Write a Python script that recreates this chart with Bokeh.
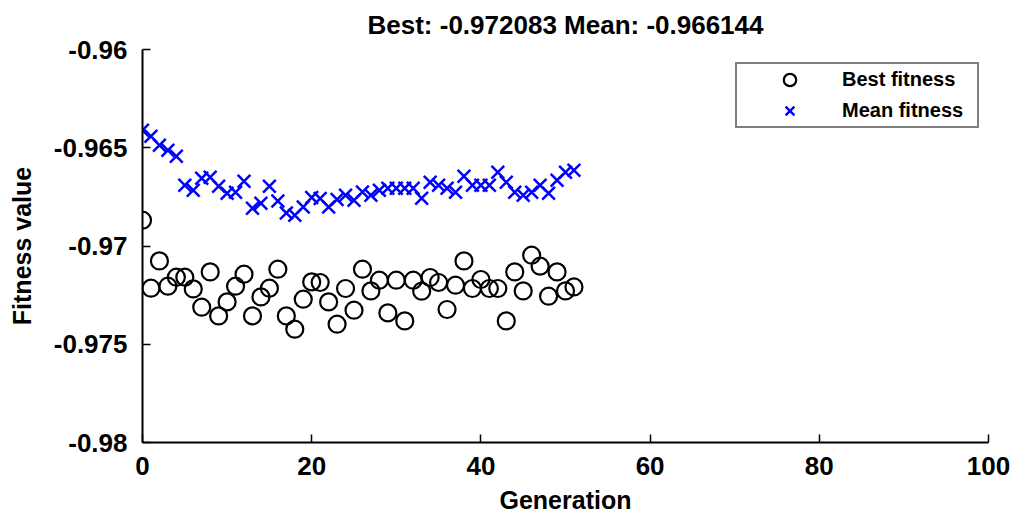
from bokeh.plotting import figure
from bokeh.models import Range1d, FixedTicker, CustomJSTickFormatter, Legend, LegendItem
from bokeh.embed import file_html
from bokeh.resources import INLINE

generation = list(range(52))
best_fitness = [
    -0.968687, -0.972148, -0.970758, -0.972046, -0.971588, -0.971588, -0.972183, -0.973115,
    -0.971318, -0.973557, -0.972845, -0.972046, -0.971435, -0.973557, -0.972590, -0.972148,
    -0.971181, -0.973557, -0.974234, -0.972707, -0.971827, -0.971858, -0.972845, -0.973980,
    -0.972163, -0.973267, -0.971181, -0.972285, -0.971740, -0.973405, -0.971740, -0.973812,
    -0.971740, -0.972300, -0.971603, -0.971858, -0.973232, -0.971995, -0.970758, -0.972163,
    -0.971705, -0.972163, -0.972163, -0.973812, -0.971318, -0.972285, -0.970468, -0.971028,
    -0.972555, -0.971318, -0.972285, -0.972083,
]
mean_fitness = [
    -0.964107, -0.964412, -0.964870, -0.965125, -0.965430, -0.966906, -0.967160, -0.966550,
    -0.966499, -0.966957, -0.967313, -0.967262, -0.966702, -0.968076, -0.967822, -0.966957,
    -0.967705, -0.968316, -0.968433, -0.968010, -0.967532, -0.967583, -0.968010, -0.967634,
    -0.967415, -0.967669, -0.967247, -0.967415, -0.967160, -0.967059, -0.967059, -0.967059,
    -0.967059, -0.967567, -0.966753, -0.966906, -0.967059, -0.967262, -0.966448, -0.966906,
    -0.966906, -0.966906, -0.966244, -0.966753, -0.967262, -0.967415, -0.967262, -0.966906,
    -0.967313, -0.966651, -0.966244, -0.966144,
]
x_ticks = [0, 20, 40, 60, 80, 100]
y_ticks = [-0.98, -0.975, -0.97, -0.965, -0.96]
title_text = "Best: -0.972083 Mean: -0.966144"
x_label = "Generation"
y_label = "Fitness value"
series_names = ["Best fitness", "Mean fitness"]

FONT = "Liberation Sans"

p = figure(width=1019, height=516, output_backend="svg", toolbar_location=None,
           x_range=Range1d(0, 100), y_range=Range1d(-0.98, -0.96),
           min_border_left=142, min_border_right=31, min_border_top=49, min_border_bottom=74)

p.title.text = title_text
p.title.align = "center"
p.title.vertical_align = "top"
p.title.text_font = FONT
p.title.text_font_size = "26px"
p.title.text_font_style = "bold"
p.title.text_color = "black"
p.title.standoff = 15

p.outline_line_color = None
p.xgrid.grid_line_color = None
p.ygrid.grid_line_color = None
p.background_fill_color = "white"
p.border_fill_color = "white"

for ax in (p.xaxis[0], p.yaxis[0]):
    ax.axis_line_width = 2
    ax.axis_line_color = "black"
    ax.major_tick_in = 8
    ax.major_tick_out = 0
    ax.major_tick_line_width = 1.5
    ax.major_tick_line_color = "black"
    ax.minor_tick_line_color = None
    ax.major_label_text_font = FONT
    ax.major_label_text_font_size = "26px"
    ax.major_label_text_font_style = "bold"
    ax.major_label_text_color = "black"
    ax.axis_label_text_font = FONT
    ax.axis_label_text_font_size = "25px"
    ax.axis_label_text_font_style = "bold"
    ax.axis_label_text_color = "black"

p.xaxis.ticker = FixedTicker(ticks=x_ticks)
p.yaxis.ticker = FixedTicker(ticks=y_ticks)
p.yaxis.formatter = CustomJSTickFormatter(code="return String(Math.round(tick*1000)/1000);")
p.xaxis.major_label_standoff = 14
p.yaxis.major_label_standoff = 15
p.xaxis.axis_label = x_label
p.yaxis.axis_label = y_label
p.xaxis.axis_label_standoff = 8
p.yaxis.axis_label_standoff = 15

r_best = p.scatter(generation, best_fitness, marker="circle", size=17, fill_color=None,
                   line_color="black", line_width=2.2)
r_mean = p.scatter(generation, mean_fitness, marker="x", size=18, line_color="#0000FF",
                   line_width=2.5)

legend = Legend(items=[LegendItem(label=series_names[0], renderers=[r_best]),
                       LegendItem(label=series_names[1], renderers=[r_mean])],
                location=(593, 314), padding=0, spacing=0,
                glyph_width=105, glyph_height=31, label_height=20, label_width=135,
                label_standoff=0, label_text_font=FONT, label_text_font_size="20px",
                label_text_font_style="bold",
                label_text_color="black", border_line_color="black", border_line_width=2,
                background_fill_color="white", background_fill_alpha=1.0, margin=0)
p.add_layout(legend)

open("out.html", "w").write(file_html(p, INLINE))
